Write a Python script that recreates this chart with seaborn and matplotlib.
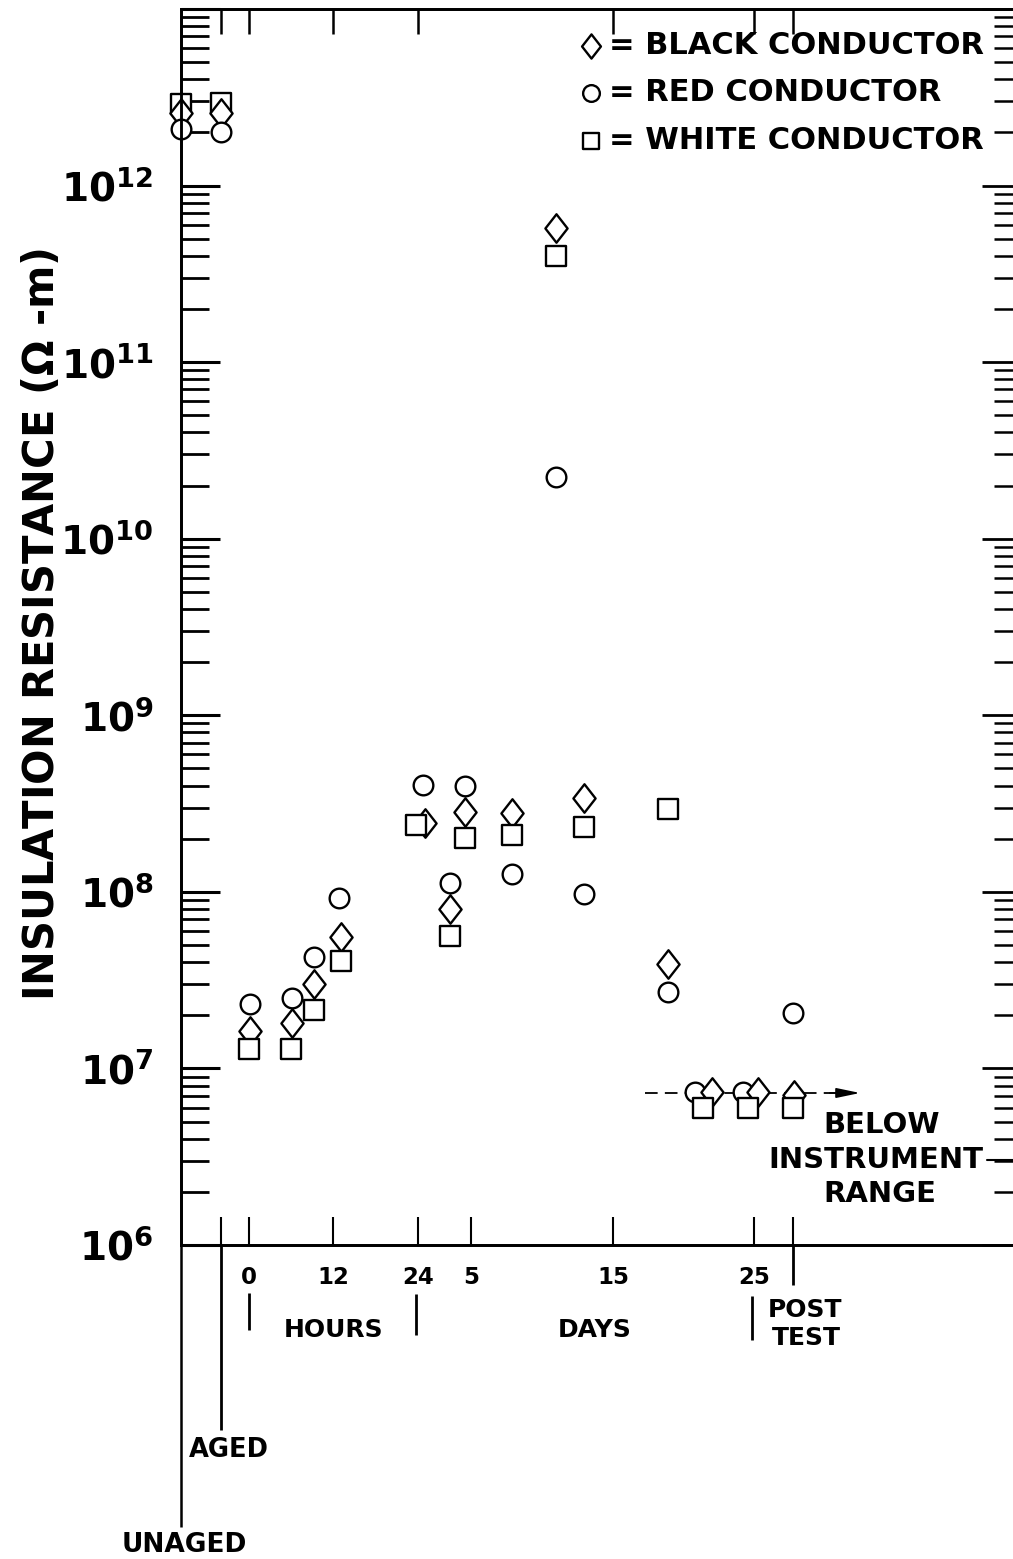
import numpy as np
import pandas as pd
import matplotlib
matplotlib.use("Agg")
import matplotlib.pyplot as plt
import matplotlib.transforms as mtrans
from matplotlib.path import Path
from matplotlib.ticker import FixedLocator, FixedFormatter, LogLocator, NullFormatter
import seaborn as sns

# ---------------- data (x in axis units: hours from start; days section continues) ----
black_x = [-9.7, -4.0, 0.1, 6.1, 9.2, 13.1, 25.0, 28.6, 30.7, 37.4, 43.6, 47.6, 59.5, 65.8, 72.3, 77.4]
black_r = [2.59e12, 2.59e12, 1.63e7, 1.81e7, 3.01e7, 5.56e7, 2.46e8, 8.02e7, 2.84e8, 2.81e8,
           5.78e11, 3.41e8, 3.91e7, 7.36e6, 7.36e6, 7.08e6]
red_x = [-9.7, -4.0, 0.1, 6.1, 9.2, 12.8, 24.7, 28.6, 30.7, 37.4, 43.6, 47.6, 59.5, 63.3, 70.2, 77.3]
red_r = [2.10e12, 2.02e12, 2.32e7, 2.51e7, 4.29e7, 9.25e7, 4.04e8, 1.12e8, 3.99e8, 1.26e8,
         2.24e10, 9.75e7, 2.71e7, 7.36e6, 7.36e6, 2.06e7]
white_x = [-9.7, -4.0, 0.0, 6.0, 9.2, 13.1, 23.7, 28.6, 30.7, 37.4, 43.6, 47.6, 59.5, 64.5, 70.9, 77.3]
white_r = [2.88e12, 2.92e12, 1.29e7, 1.29e7, 2.14e7, 4.06e7, 2.40e8, 5.64e7, 2.02e8, 2.10e8,
           4.01e11, 2.33e8, 2.95e8, 5.97e6, 5.97e6, 5.97e6]

series_names = ["= BLACK CONDUCTOR", "= RED CONDUCTOR", "= WHITE CONDUCTOR"]

bottom_tick_pos = [-4.0, 0.0, 12.0, 24.0, 31.5, 51.7, 71.7, 77.3]
bottom_tick_lab = ["", "0", "12", "24", "5", "15", "25", ""]
top_tick_pos = [-4.0, 0.0, 12.0, 24.0, 51.7, 71.7, 77.3]
y_major = [1e6, 1e7, 1e8, 1e9, 1e10, 1e11, 1e12, 1e13]
y_major_lab = [r"$\mathbf{10^{6}}$", r"$\mathbf{10^{7}}$", r"$\mathbf{10^{8}}$", r"$\mathbf{10^{9}}$",
               r"$\mathbf{10^{10}}$", r"$\mathbf{10^{11}}$", r"$\mathbf{10^{12}}$", ""]

below_x = [56.3, 84.0]
below_r = [7.26e6, 7.26e6]

# ---------------- styling ----------------
sns.set_theme(style="ticks")
plt.rcParams["font.family"] = ["DejaVu Sans"]
plt.rcParams["font.weight"] = "bold"
plt.rcParams["mathtext.fontset"] = "dejavusans"
for key in ("text.color", "axes.labelcolor", "xtick.color", "ytick.color", "axes.edgecolor"):
    plt.rcParams[key] = "black"

W, H = 1013, 1559
fig = plt.figure(figsize=(W / 100, H / 100), dpi=100)
ax_left, ax_right_px, ax_top_px, ax_bot_px = 181, 1015, 9, 1245
ax = fig.add_axes([ax_left / W, 1 - ax_bot_px / H, (ax_right_px - ax_left) / W, (ax_bot_px - ax_top_px) / H])

xlim = (-9.66, 108.8)
ylim = (1e6, 1e13)

diamond = Path([(0, 1), (0.78, 0), (0, -1), (-0.78, 0), (0, 1)],
               [Path.MOVETO, Path.LINETO, Path.LINETO, Path.LINETO, Path.CLOSEPOLY])

df = pd.concat([
    pd.DataFrame({"x": black_x, "R": black_r, "conductor": series_names[0]}),
    pd.DataFrame({"x": red_x, "R": red_r, "conductor": series_names[1]}),
    pd.DataFrame({"x": white_x, "R": white_r, "conductor": series_names[2]}),
], ignore_index=True)

spec = {
    series_names[0]: dict(marker=diamond, s=420, z_main=4, z_top=4),
    series_names[1]: dict(marker="o", s=200, z_main=3, z_top=5),
    series_names[2]: dict(marker="s", s=190, z_main=5, z_top=3),
}

for name in series_names:
    sp = spec[name]
    sub = df[df["conductor"] == name]
    early = sub[sub["x"] < -3]
    rest = sub[sub["x"] >= -3]
    sns.scatterplot(data=rest, x="x", y="R", marker=sp["marker"], s=sp["s"], color="white",
                    edgecolor="black", linewidth=1.7, zorder=sp["z_main"], ax=ax, label=name,
                    clip_on=False)
    sns.scatterplot(data=early, x="x", y="R", marker=sp["marker"], s=sp["s"], color="white",
                    edgecolor="black", linewidth=1.7, zorder=sp["z_top"], ax=ax, clip_on=False)

# dashed "below instrument range" line with arrow
ax.plot(below_x, below_r, color="black", lw=1.3, ls=(0, (7, 4)), zorder=2)
ax.annotate("", xy=(86.8, below_r[0]), xytext=(82.5, below_r[0]),
            arrowprops=dict(arrowstyle="-|>,head_length=1.2,head_width=0.25", color="black",
                            lw=1.2, shrinkA=0, shrinkB=0), zorder=2)

ax.set_yscale("log")
ax.set_xlim(*xlim)
ax.set_ylim(*ylim)

ax.yaxis.set_major_locator(FixedLocator(y_major))
ax.yaxis.set_major_formatter(FixedFormatter(y_major_lab))
ax.yaxis.set_minor_locator(LogLocator(base=10, subs=np.arange(2, 10), numticks=20))
ax.yaxis.set_minor_formatter(NullFormatter())
ax.tick_params(axis="y", which="major", direction="in", length=28, width=2.2, labelsize=28, pad=20,
               right=False)
ax.tick_params(axis="y", which="minor", direction="in", length=20, width=2.0, right=False)

ax.xaxis.set_major_locator(FixedLocator(bottom_tick_pos))
ax.xaxis.set_major_formatter(FixedFormatter(bottom_tick_lab))
ax.tick_params(axis="x", which="major", direction="in", length=20, width=1.5, labelsize=16.5, pad=15,
               top=False)
ax.tick_params(axis="x", which="minor", bottom=False, top=False)
for lab in ax.get_xticklabels():
    lab.set_fontweight("bold")

# right-side ticks
ax_r = ax.twinx()
ax_r.set_yscale("log")
ax_r.set_ylim(*ylim)
ax_r.yaxis.set_major_locator(FixedLocator(y_major))
ax_r.yaxis.set_minor_locator(LogLocator(base=10, subs=np.arange(2, 10), numticks=20))
ax_r.yaxis.set_major_formatter(NullFormatter())
ax_r.yaxis.set_minor_formatter(NullFormatter())
ax_r.tick_params(axis="y", which="major", direction="in", length=24, width=2.0)
ax_r.tick_params(axis="y", which="minor", direction="in", length=15, width=1.8)

# top ticks
ax_t = ax.twiny()
ax_t.set_xlim(*xlim)
ax_t.xaxis.set_major_locator(FixedLocator(top_tick_pos))
ax_t.xaxis.set_major_formatter(NullFormatter())
ax_t.xaxis.set_minor_locator(FixedLocator([]))
ax_t.tick_params(axis="x", which="major", direction="in", length=18, width=1.8)

for a in (ax, ax_r, ax_t):
    for sp_ in a.spines.values():
        sp_.set_linewidth(1.8)
        sp_.set_color("black")
    a.set_xlabel("")
    a.set_ylabel("")

ax.set_ylabel("INSULATION RESISTANCE ($\\Omega$ -m)", fontsize=30, fontweight="bold")
ax.yaxis.set_label_coords(-0.1415, 0.502)

# legend
leg = ax.legend(loc="upper right", bbox_to_anchor=(0.978, 0.992), frameon=False, fontsize=22,
                handletextpad=0.1, labelspacing=0.6, borderaxespad=0, handlelength=1.0,
                markerscale=0.85)
for t in leg.get_texts():
    t.set_fontweight("bold")
    t.set_color("black")

# ---------------- x-axis annotations ----------------
blend = mtrans.blended_transform_factory(ax.transData, ax.transAxes)
axh = ax_bot_px - ax_top_px


def yfrac(py):
    return (ax_bot_px - py) / axh


def seg(x, y0, y1, lw=2.0):
    ax.plot([x, x], [yfrac(y0), yfrac(y1)], transform=blend, color="black", lw=lw, clip_on=False,
            solid_capstyle="butt")


seg(xlim[0], 1245, 1527, lw=1.8)   # unaged line
seg(-4.0, 1245, 1430, lw=2.0)      # aged line
seg(77.3, 1245, 1285, lw=2.0)      # post test line
seg(0.0, 1293, 1330, lw=2.0)
seg(23.7, 1294, 1335, lw=2.0)
seg(71.4, 1296, 1340, lw=2.0)


def ftext(px, py, s, size, ha="center", va="center", **kw):
    fig.text(px / W, 1 - py / H, s, fontsize=size, fontweight="bold", ha=ha, va=va,
             color="black", **kw)


ftext(334, 1330, "HOURS", 18)
ftext(595, 1330, "DAYS", 18)
ftext(768, 1310, "POST", 18, ha="left")
ftext(772, 1338, "TEST", 18, ha="left")
ftext(189, 1450, "AGED", 18.5, ha="left")
ftext(184, 1545, "UNAGED", 19)
ftext(882, 1125, "BELOW", 21)
ftext(876, 1160, "INSTRUMENT", 21)
ftext(880, 1194, "RANGE", 21)
fig.lines.append(plt.Line2D([987 / W, 1013 / W], [1 - 1160 / H, 1 - 1160 / H], color="black", lw=1.5,
                            transform=fig.transFigure))

fig.savefig("out.png", dpi=100)
